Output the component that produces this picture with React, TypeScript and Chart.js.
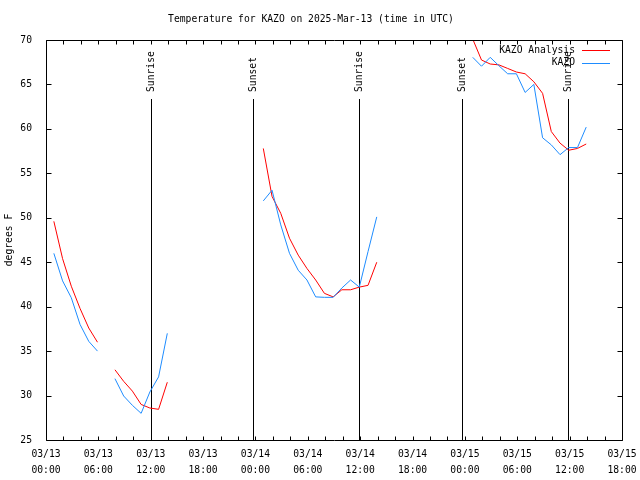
import React, { useEffect, useRef } from "react";
import { Chart, registerables } from "chart.js";

Chart.register(...registerables);

// Observation times, hours after 03/13 00:00 UTC (null values mark gaps)
const hours = [
  0.9, 1.9, 2.9, 3.9, 4.9, 5.9, 6.9,
  7.9, 8.9, 9.9, 10.9, 11.9, 12.9, 13.9, 14.9,
  24.9, 25.9, 26.9, 27.9, 28.9, 29.9, 30.9, 31.9, 32.9, 33.9, 34.9, 35.9, 36.9, 37.9, 38.9,
  48.9, 49.9, 50.9, 51.9, 52.9, 53.9, 54.9, 55.9, 56.9, 57.9, 58.9, 59.9, 60.9, 61.9,
];

const analysis = [
  49.6, 45.4, 42.3, 39.8, 37.6, 36.0, null,
  32.9, 31.6, 30.5, 29.0, 28.6, 28.45, 31.5, null,
  57.8, 52.4, 50.5, 47.7, 45.8, 44.3, 43.0, 41.5, 41.1, 41.9, 41.9, 42.2, 42.4, 45.0, null,
  70.1, 67.75, 67.3, 67.2, 66.8, 66.4, 66.2, 65.3, 64.0, 59.7, 58.4, 57.6, 57.8, 58.3,
];

const observed = [
  46.0, 42.9, 41.0, 38.0, 36.1, 35.0, null,
  31.9, 29.95, 28.9, 28.0, 30.4, 32.1, 37.0, null,
  51.9, 53.1, 49.2, 46.0, 44.1, 43.0, 41.1, 41.05, 41.05, 42.1, 43.0, 42.2, 46.2, 50.1, null,
  68.05, 67.05, 68.05, 67.1, 66.2, 66.2, 64.1, 65.0, 59.0, 58.2, 57.1, 57.9, 57.9, 60.2,
];

const tickDates = ["03/13", "03/13", "03/13", "03/13", "03/14", "03/14", "03/14", "03/14", "03/15", "03/15", "03/15", "03/15"];
const tickTimes = ["00:00", "06:00", "12:00", "18:00", "00:00", "06:00", "12:00", "18:00", "00:00", "06:00", "12:00", "18:00"];

const sunHours = [12.0, 23.72, 35.88, 47.68, 59.82];
const sunLabels = ["Sunrise", "Sunset", "Sunrise", "Sunset", "Sunrise"];

const seriesNames = ["KAZO Analysis", "KAZO"];
const seriesColors = ["#ff0000", "#1e8cff"];

const FONT = "DejaVu Sans Mono";
const FS = 9.7;

const overlayPlugin = {
  id: "overlay",
  beforeDatasetsDraw(chart: any) {
    const { ctx, chartArea } = chart;
    const xs = chart.scales.x;
    ctx.save();
    ctx.strokeStyle = "#000";
    ctx.lineWidth = 1;
    ctx.fillStyle = "#000";
    ctx.font = `${FS}px "${FONT}"`;
    sunHours.forEach((h, i) => {
      const px = Math.round(xs.getPixelForValue(h)) + 0.5;
      ctx.beginPath();
      ctx.moveTo(px, chartArea.top + 59);
      ctx.lineTo(px, chartArea.bottom);
      ctx.stroke();
      ctx.save();
      ctx.translate(px, chartArea.top + 52);
      ctx.rotate(-Math.PI / 2);
      ctx.textAlign = "left";
      ctx.textBaseline = "middle";
      ctx.fillText(sunLabels[i], 0, 0);
      ctx.restore();
    });
    ctx.restore();
  },
  afterDatasetsDraw(chart: any) {
    const { ctx, chartArea } = chart;
    const xs = chart.scales.x;
    const ys = chart.scales.y;
    const L = chartArea.left + 0.5;
    const R = chartArea.right + 0.5;
    const T = chartArea.top + 0.5;
    const B = chartArea.bottom + 0.5;
    ctx.save();
    ctx.strokeStyle = "#000";
    ctx.lineWidth = 1;
    ctx.beginPath();
    ctx.rect(L, T, R - L, B - T);
    ctx.stroke();
    ctx.beginPath();
    for (let h = 0; h <= 66; h += 2) {
      const px = Math.round(xs.getPixelForValue(h)) + 0.5;
      ctx.moveTo(px, B);
      ctx.lineTo(px, B - 4);
      ctx.moveTo(px, T);
      ctx.lineTo(px, T + 4);
    }
    for (let v = 25; v <= 70; v += 5) {
      const py = Math.round(ys.getPixelForValue(v)) + 0.5;
      ctx.moveTo(L, py);
      ctx.lineTo(L + 5, py);
      ctx.moveTo(R, py);
      ctx.lineTo(R - 5, py);
    }
    ctx.stroke();

    // legend
    ctx.font = `${FS}px "${FONT}"`;
    ctx.textAlign = "right";
    ctx.textBaseline = "middle";
    seriesNames.forEach((name, i) => {
      const y = chartArea.top + 10 + i * 12.7;
      ctx.fillStyle = "#000";
      ctx.fillText(name, chartArea.left + 529, y);
      ctx.strokeStyle = seriesColors[i];
      ctx.beginPath();
      ctx.moveTo(chartArea.left + 536, Math.round(y) + 0.5);
      ctx.lineTo(chartArea.left + 564, Math.round(y) + 0.5);
      ctx.stroke();
    });
    ctx.restore();
  },
};

export default function App() {
  const ref = useRef<HTMLCanvasElement>(null);
  useEffect(() => {
    if (!ref.current) return;
    const mk = (vals: (number | null)[]) => hours.map((h, i) => ({ x: h, y: vals[i] }));
    const chart = new Chart(ref.current, {
      type: "line",
      data: {
        datasets: [
          {
            label: seriesNames[1],
            data: mk(observed),
            borderColor: seriesColors[1],
            backgroundColor: seriesColors[1],
            borderWidth: 1,
            pointRadius: 0,
            tension: 0,
            spanGaps: false,
          },
          {
            label: seriesNames[0],
            data: mk(analysis),
            borderColor: seriesColors[0],
            backgroundColor: seriesColors[0],
            borderWidth: 1,
            pointRadius: 0,
            tension: 0,
            spanGaps: false,
          },
        ],
      },
      options: {
        animation: false,
        responsive: false,
        devicePixelRatio: 1,
        layout: { padding: { top: 0, right: 18, bottom: 0, left: 0 } },
        plugins: {
          legend: { display: false },
          tooltip: { enabled: false },
          title: {
            display: true,
            text: "Temperature for KAZO on 2025-Mar-13 (time in UTC)",
            color: "#000",
            font: { family: FONT, size: FS, weight: "normal", lineHeight: 1.2 },
            padding: { top: 14, bottom: 14.36 },
          },
        },
        scales: {
          x: {
            type: "linear",
            min: 0,
            max: 66,
            grid: { display: false },
            border: { display: false },
            ticks: {
              stepSize: 6,
              autoSkip: false,
              maxRotation: 0,
              minRotation: 0,
              padding: -2,
              color: "#000",
              font: { family: FONT, size: FS, lineHeight: 1.65 },
              callback: (_v: any, i: number) => [tickDates[i], tickTimes[i]],
            },
            afterFit: (s: any) => {
              s.height = 40;
              s.paddingLeft = 0;
              s.paddingRight = 0;
            },
          },
          y: {
            min: 25,
            max: 70,
            grid: { display: false },
            border: { display: false },
            ticks: {
              stepSize: 5,
              padding: 6,
              color: "#000",
              font: { family: FONT, size: FS },
            },
            title: {
              display: true,
              text: "degrees F",
              color: "#000",
              font: { family: FONT, size: FS, lineHeight: 1.2 },
              padding: { top: 4, bottom: 4 },
            },
            afterFit: (s: any) => {
              s.width = 46;
              s.paddingTop = 0;
              s.paddingBottom = 0;
            },
          },
        },
      },
      plugins: [overlayPlugin],
    });
    return () => chart.destroy();
  }, []);
  return (
    <canvas
      ref={ref}
      width={640}
      height={480}
      style={{ position: "fixed", left: 0, top: 0, width: 640, height: 480, background: "#fff" }}
    />
  );
}
